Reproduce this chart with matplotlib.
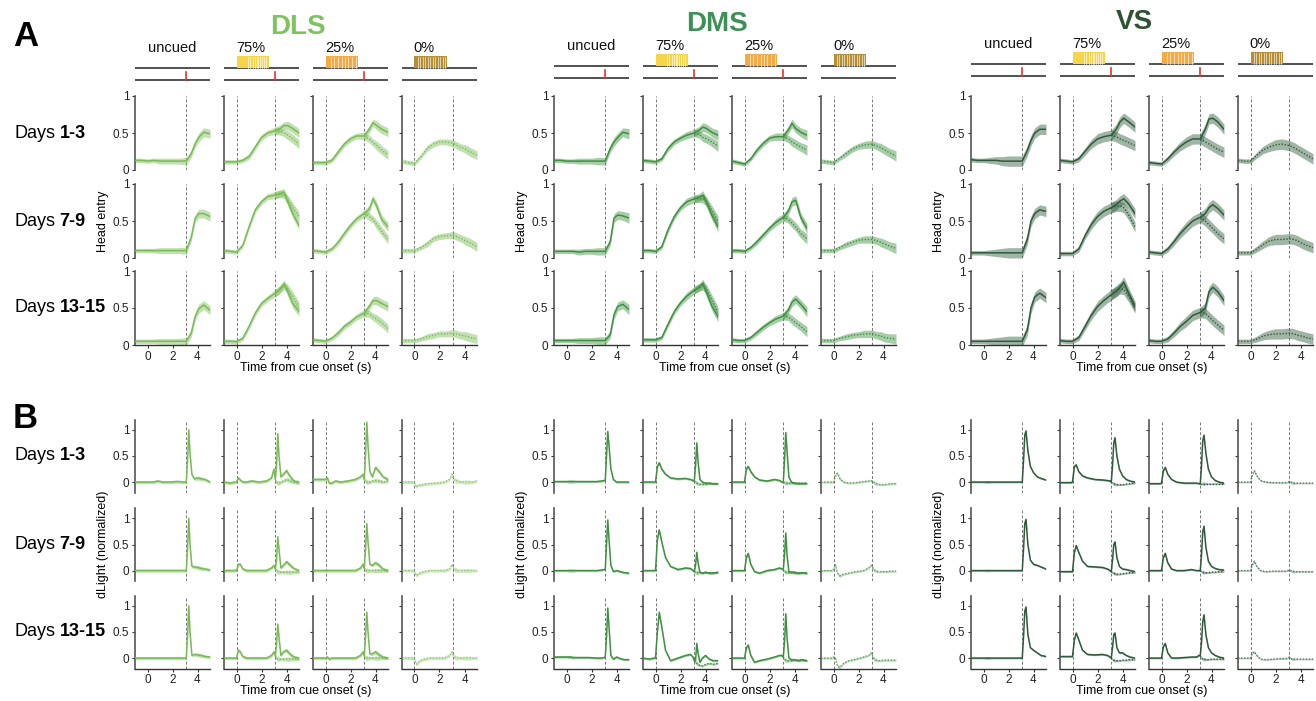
import numpy as np
import matplotlib
matplotlib.use('Agg')
import matplotlib.pyplot as plt
from matplotlib.patches import Rectangle

plt.rcParams['font.family'] = ['Liberation Sans', 'DejaVu Sans']

###############################################################################
##                                   Data                                    ##
###############################################################################

REGIONS = ['DLS', 'DMS', 'VS']
CONDITIONS = ['uncued', '75%', '25%', '0%']
DAYS = ['1-3', '7-9', '13-15']
REWARD_T = 3.1
CUE_END = 2.6

# head entry time grid; omitted tails start after 3.1 s (index 8)
HE_T = [-1, -0.5, 0, 0.5, 1, 1.5, 2, 2.5, 3.1, 3.5, 3.8, 4.1, 4.5, 5]
HE_SPLIT = 8

# dLight time grid; omitted tails start after 3.1 s (index 13)
DL_T = [-1, -0.5, -0.1, 0, 0.15, 0.3, 0.5, 0.8, 1.2, 1.8, 2.4, 2.8, 3.0, 3.1,
        3.2, 3.3, 3.4, 3.55, 3.75, 4.0, 4.3, 4.6, 5.0]
DL_SPLIT = 13

# ---- head entry, rows = days ----
DLS_HE_UNCUED = [[0.13, 0.13, 0.12, 0.13, 0.12, 0.12, 0.12, 0.12, 0.12, 0.22, 0.35, 0.44, 0.51, 0.49],
                 [0.1, 0.1, 0.1, 0.1, 0.1, 0.1, 0.1, 0.1, 0.1, 0.28, 0.53, 0.6, 0.6, 0.56],
                 [0.05, 0.05, 0.05, 0.05, 0.05, 0.05, 0.05, 0.05, 0.05, 0.16, 0.38, 0.49, 0.54, 0.47]]
DLS_HE_75 = [[0.11, 0.11, 0.11, 0.13, 0.18, 0.31, 0.44, 0.5, 0.53, 0.56, 0.6, 0.6, 0.56, 0.5],
             [0.1, 0.09, 0.08, 0.17, 0.42, 0.65, 0.76, 0.83, 0.85, 0.87, 0.89, 0.76, 0.6, 0.44],
             [0.05, 0.05, 0.045, 0.09, 0.25, 0.43, 0.56, 0.63, 0.7, 0.76, 0.83, 0.72, 0.56, 0.45]]
DLS_HE_75_OMIT = [[0.52, 0.5, 0.47, 0.42, 0.35],
                  [0.87, 0.85, 0.79, 0.69, 0.56],
                  [0.75, 0.8, 0.76, 0.66, 0.52]]
DLS_HE_25 = [[0.1, 0.1, 0.1, 0.13, 0.24, 0.35, 0.42, 0.46, 0.46, 0.55, 0.64, 0.6, 0.55, 0.51],
             [0.1, 0.09, 0.08, 0.12, 0.21, 0.33, 0.44, 0.53, 0.6, 0.66, 0.8, 0.7, 0.52, 0.42],
             [0.07, 0.06, 0.05, 0.09, 0.16, 0.25, 0.31, 0.38, 0.43, 0.52, 0.6, 0.6, 0.56, 0.52]]
DLS_HE_25_OMIT = [[0.42, 0.37, 0.33, 0.27, 0.2],
                  [0.56, 0.52, 0.45, 0.36, 0.25],
                  [0.42, 0.38, 0.35, 0.3, 0.22]]
DLS_HE_0 = [[0.12, 0.1, 0.09, 0.18, 0.29, 0.35, 0.38, 0.38, 0.36, 0.32, 0.3, 0.28, 0.24, 0.2],
            [0.1, 0.1, 0.1, 0.14, 0.19, 0.26, 0.29, 0.3, 0.31, 0.28, 0.26, 0.23, 0.2, 0.15],
            [0.06, 0.06, 0.06, 0.08, 0.11, 0.13, 0.15, 0.15, 0.16, 0.14, 0.13, 0.12, 0.1, 0.08]]

DMS_HE_UNCUED = [[0.13, 0.13, 0.12, 0.12, 0.12, 0.12, 0.12, 0.12, 0.12, 0.29, 0.38, 0.44, 0.51, 0.49],
                 [0.09, 0.09, 0.09, 0.09, 0.08, 0.09, 0.09, 0.09, 0.09, 0.22, 0.54, 0.58, 0.57, 0.54],
                 [0.06, 0.06, 0.06, 0.06, 0.06, 0.06, 0.06, 0.06, 0.06, 0.14, 0.41, 0.52, 0.55, 0.48]]
DMS_HE_75 = [[0.13, 0.12, 0.11, 0.15, 0.29, 0.38, 0.43, 0.47, 0.5, 0.54, 0.58, 0.56, 0.51, 0.47],
             [0.1, 0.1, 0.09, 0.15, 0.38, 0.56, 0.68, 0.76, 0.8, 0.82, 0.85, 0.74, 0.58, 0.42],
             [0.07, 0.07, 0.07, 0.1, 0.28, 0.45, 0.57, 0.66, 0.74, 0.78, 0.83, 0.7, 0.53, 0.38]]
DMS_HE_75_OMIT = [[0.48, 0.44, 0.42, 0.38, 0.32],
                  [0.8, 0.8, 0.76, 0.65, 0.5],
                  [0.78, 0.8, 0.75, 0.62, 0.45]]
DMS_HE_25 = [[0.12, 0.1, 0.08, 0.15, 0.27, 0.36, 0.43, 0.45, 0.45, 0.54, 0.63, 0.56, 0.51, 0.47],
             [0.1, 0.1, 0.09, 0.14, 0.22, 0.31, 0.4, 0.48, 0.55, 0.63, 0.76, 0.78, 0.55, 0.4],
             [0.07, 0.06, 0.06, 0.1, 0.17, 0.24, 0.3, 0.35, 0.39, 0.47, 0.58, 0.62, 0.55, 0.45]]
DMS_HE_25_OMIT = [[0.42, 0.38, 0.35, 0.31, 0.27],
                  [0.52, 0.47, 0.42, 0.33, 0.26],
                  [0.38, 0.34, 0.3, 0.25, 0.18]]
DMS_HE_0 = [[0.12, 0.11, 0.1, 0.16, 0.22, 0.28, 0.32, 0.34, 0.35, 0.32, 0.3, 0.27, 0.23, 0.19],
            [0.1, 0.1, 0.1, 0.14, 0.18, 0.21, 0.24, 0.25, 0.25, 0.23, 0.21, 0.19, 0.16, 0.13],
            [0.06, 0.06, 0.06, 0.09, 0.11, 0.13, 0.14, 0.15, 0.15, 0.13, 0.12, 0.1, 0.09, 0.08]]

VS_HE_UNCUED = [[0.14, 0.13, 0.13, 0.13, 0.13, 0.12, 0.12, 0.12, 0.12, 0.26, 0.4, 0.5, 0.55, 0.55],
                [0.07, 0.07, 0.07, 0.07, 0.07, 0.07, 0.07, 0.07, 0.07, 0.25, 0.5, 0.6, 0.65, 0.63],
                [0.05, 0.05, 0.05, 0.05, 0.05, 0.05, 0.05, 0.05, 0.05, 0.2, 0.5, 0.65, 0.7, 0.64]]
VS_HE_75 = [[0.13, 0.12, 0.11, 0.15, 0.25, 0.35, 0.42, 0.45, 0.47, 0.55, 0.65, 0.7, 0.65, 0.58],
            [0.06, 0.06, 0.06, 0.12, 0.3, 0.45, 0.56, 0.63, 0.68, 0.72, 0.77, 0.8, 0.73, 0.6],
            [0.06, 0.05, 0.05, 0.1, 0.25, 0.4, 0.52, 0.6, 0.68, 0.73, 0.78, 0.85, 0.7, 0.52]]
VS_HE_75_OMIT = [[0.45, 0.42, 0.4, 0.37, 0.33],
                 [0.7, 0.7, 0.68, 0.58, 0.42],
                 [0.72, 0.76, 0.75, 0.65, 0.5]]
VS_HE_25 = [[0.1, 0.09, 0.08, 0.15, 0.24, 0.32, 0.38, 0.42, 0.42, 0.55, 0.69, 0.7, 0.65, 0.55],
            [0.08, 0.07, 0.06, 0.12, 0.22, 0.33, 0.42, 0.5, 0.55, 0.6, 0.68, 0.72, 0.67, 0.58],
            [0.06, 0.05, 0.05, 0.08, 0.16, 0.25, 0.32, 0.4, 0.44, 0.5, 0.72, 0.78, 0.72, 0.6]]
VS_HE_25_OMIT = [[0.38, 0.35, 0.32, 0.28, 0.24],
                 [0.5, 0.45, 0.4, 0.33, 0.26],
                 [0.43, 0.38, 0.33, 0.27, 0.2]]
VS_HE_0 = [[0.13, 0.12, 0.12, 0.2, 0.27, 0.31, 0.34, 0.35, 0.33, 0.3, 0.27, 0.24, 0.2, 0.15],
           [0.07, 0.07, 0.07, 0.12, 0.18, 0.23, 0.25, 0.25, 0.26, 0.25, 0.23, 0.2, 0.17, 0.14],
           [0.05, 0.05, 0.05, 0.08, 0.12, 0.14, 0.15, 0.15, 0.16, 0.15, 0.13, 0.12, 0.1, 0.08]]

HE_SEM_DLS = [0.03, 0.03, 0.03, 0.03, 0.04, 0.04, 0.04, 0.04, 0.05, 0.05, 0.05, 0.06, 0.06, 0.06]
HE_SEM_DMS = [0.03, 0.03, 0.03, 0.03, 0.04, 0.04, 0.04, 0.05, 0.05, 0.05, 0.06, 0.06, 0.06, 0.07]
HE_SEM_VS = [0.03, 0.03, 0.03, 0.04, 0.05, 0.06, 0.07, 0.07, 0.07, 0.07, 0.07, 0.07, 0.07, 0.07]

# ---- dLight (normalized), rows = days ----
DLS_DL_UNCUED = [[0, 0, 0, 0, 0, 0, 0, 0.02, 0, 0, 0.01, 0, 0, 0, 0.4, 1.0, 0.55, 0.15, 0.06, 0.08, 0.06, 0.05, 0.0],
                 [0, 0, 0, 0, 0, 0, 0, 0, 0, 0, 0, 0, 0, 0, 0.4, 1.0, 0.5, 0.08, 0.07, 0.06, 0.04, 0.03, 0.01],
                 [0, 0, 0, 0, 0, 0, 0, 0, 0, 0, 0, 0, 0, 0, 0.4, 1.0, 0.5, 0.05, 0.07, 0.06, 0.05, 0.03, 0.02]]
DLS_DL_75 = [[0, -0.02, 0, 0, 0.08, 0.04, 0, 0, 0.02, 0, 0.02, 0.08, 0.25, 0.05, 0.3, 0.93, 0.5, 0.1, 0.15, 0.22, 0.1, 0.02, 0.0],
             [0, 0, 0, 0, 0.12, 0.12, 0.03, 0, 0, 0, 0, 0.05, 0.1, 0.03, 0.2, 0.65, 0.4, 0.05, 0.1, 0.17, 0.1, 0.04, 0.0],
             [0, 0, 0, 0, 0.15, 0.12, 0.03, 0, 0, 0, 0, 0.05, 0.12, 0.04, 0.25, 0.65, 0.4, 0.05, 0.12, 0.15, 0.07, 0.02, 0.0]]
DLS_DL_75_OMIT = [[0.0, -0.02, -0.02, 0, 0.02, 0.05, 0.02, 0, -0.02],
                  [0, -0.02, -0.03, -0.03, -0.03, -0.03, -0.03, -0.03, -0.03],
                  [0, -0.02, -0.02, -0.02, -0.02, -0.02, -0.02, -0.02, -0.02]]
DLS_DL_25 = [[0.05, 0.05, 0.05, 0.05, 0.08, -0.02, -0.02, 0.02, 0, 0.02, 0.05, 0.1, 0.15, 0.05, 0.5, 1.15, 0.7, 0.2, 0.1, 0.28, 0.2, 0.1, 0.05],
             [0, 0, 0, 0, 0, 0, 0, 0, 0, 0, 0, 0.05, 0.12, 0.05, 0.4, 0.9, 0.55, 0.12, 0.1, 0.15, 0.1, 0.03, 0.0],
             [0, 0, 0, 0, 0.02, -0.02, 0, 0, 0, 0, 0, 0.05, 0.12, 0.04, 0.4, 0.88, 0.5, 0.08, 0.08, 0.12, 0.06, 0.02, 0.0]]
DLS_DL_25_OMIT = [[0.02, 0, 0, 0, 0.02, 0.03, 0.02, 0, 0.02],
                  [0, 0, 0, 0, 0, 0, 0, 0, 0],
                  [0, 0, 0, 0, 0, 0, 0, 0, 0]]
DLS_DL_0 = [[0, 0, 0, -0.02, -0.1, -0.05, -0.06, -0.04, -0.03, -0.02, 0, 0.05, 0.15, 0.08, 0.04, 0.02, 0.02, 0.01, 0, 0, 0, 0, 0.02],
            [0, 0, 0, -0.02, -0.1, -0.06, -0.04, -0.02, 0, 0, 0, 0.03, 0.12, 0.05, 0.02, 0.01, 0, 0, 0, 0, 0, 0, 0],
            [0, 0, 0, -0.02, -0.12, -0.08, -0.04, -0.02, 0, 0, 0, 0.05, 0.12, 0.05, 0.02, 0.01, 0, 0, 0, 0, 0, 0, 0]]

DMS_DL_UNCUED = [[0.01, 0.01, 0.01, 0.01, 0.01, 0.01, 0.01, 0.01, 0.01, 0.01, 0.01, 0.02, 0.03, 0.03, 0.5, 0.97, 0.7, 0.25, 0.05, 0, 0, 0, 0],
                 [0, 0, 0, 0, 0, 0, 0, 0, 0, 0, 0, 0.01, 0.02, 0.02, 0.5, 0.97, 0.6, 0.1, -0.02, 0, -0.02, -0.04, -0.05],
                 [0.02, 0.02, 0.02, 0.02, 0.02, 0.02, 0.01, 0.01, 0.01, 0.01, 0, 0, 0.01, 0.02, 0.4, 0.96, 0.6, 0.05, -0.02, 0.02, -0.01, -0.03, -0.03]]
DMS_DL_75 = [[0, 0, 0, 0, 0.3, 0.37, 0.25, 0.15, 0.08, 0.06, 0.07, 0.05, 0.03, 0.02, 0.3, 0.75, 0.4, 0.05, 0, -0.02, -0.02, -0.03, -0.03],
             [0, 0, 0, 0, 0.6, 0.78, 0.55, 0.25, 0.08, 0.02, 0.05, 0.04, 0, -0.02, 0.1, 0.35, 0.15, -0.03, -0.05, -0.03, -0.05, -0.05, -0.03],
             [0, -0.02, 0, 0, 0.5, 0.88, 0.6, 0.15, -0.05, 0, 0.05, 0.07, 0.02, -0.05, -0.05, 0.28, 0.1, -0.08, 0, 0.05, -0.02, -0.05, -0.05]]
DMS_DL_75_OMIT = [[0, -0.02, -0.03, -0.04, -0.04, -0.04, -0.03, -0.03, -0.03],
                  [-0.03, -0.04, -0.04, -0.04, -0.04, -0.04, -0.04, -0.04, -0.04],
                  [-0.08, -0.1, -0.12, -0.14, -0.15, -0.12, -0.1, -0.12, -0.1]]
DMS_DL_25 = [[0, 0, 0, 0, 0.25, 0.3, 0.2, 0.1, 0.04, 0.02, 0.05, 0.03, 0, 0, 0.4, 0.95, 0.6, 0.1, 0, -0.02, -0.03, -0.03, -0.03],
             [0, 0, 0, 0, 0.25, 0.33, 0.12, -0.02, -0.05, 0, 0.02, 0.05, 0.03, 0.02, 0.3, 0.72, 0.3, -0.02, -0.03, -0.03, -0.05, -0.04, -0.05],
             [0, 0, 0, 0, 0.2, 0.25, 0.05, -0.08, -0.05, -0.02, 0.02, 0.05, 0.05, 0.02, 0.3, 0.85, 0.4, 0, -0.03, -0.03, -0.05, -0.03, -0.05]]
DMS_DL_25_OMIT = [[-0.01, -0.02, -0.02, -0.02, -0.02, -0.02, -0.02, -0.02, -0.02],
                  [-0.02, -0.03, -0.03, -0.04, -0.04, -0.05, -0.05, -0.04, -0.05],
                  [-0.03, -0.04, -0.05, -0.05, -0.05, -0.04, -0.04, -0.04, -0.05]]
DMS_DL_0 = [[0, 0, 0, 0, 0.13, 0.17, 0.07, 0, -0.02, -0.01, 0.01, 0.02, 0.03, 0.02, 0, -0.02, -0.03, -0.04, -0.05, -0.05, -0.04, -0.03, -0.03],
            [0, 0, 0, 0.03, 0.12, -0.05, -0.1, -0.07, -0.05, -0.02, 0, 0.05, 0.1, 0.07, 0.03, 0, -0.01, -0.02, -0.02, -0.02, -0.02, -0.01, -0.01],
            [0, 0, 0, 0.02, 0, -0.15, -0.18, -0.1, -0.05, -0.02, 0.02, 0.05, 0.1, 0.05, 0, -0.03, -0.04, -0.05, -0.05, -0.04, -0.04, -0.04, -0.04]]

VS_DL_UNCUED = [[0, 0, 0, 0, 0, 0, 0, 0, 0, 0, 0, 0, 0, 0, 0.4, 0.9, 0.98, 0.6, 0.3, 0.18, 0.1, 0.07, 0.04],
                [0, 0, 0, 0, 0, 0, 0, 0, 0, 0, 0, 0, 0, 0, 0.4, 0.9, 0.98, 0.5, 0.2, 0.12, 0.1, 0.07, 0.03],
                [0, 0, 0, 0, 0, 0, 0, 0, 0, 0, 0, 0, 0, 0, 0.4, 0.9, 0.98, 0.45, 0.2, 0.15, 0.1, 0.05, 0.03]]
VS_DL_75 = [[-0.01, -0.01, -0.01, 0, 0.3, 0.33, 0.2, 0.12, 0.08, 0.05, 0.04, 0.03, 0.02, 0, 0.3, 0.75, 0.85, 0.5, 0.25, 0.12, 0.05, 0.02, 0],
            [-0.02, -0.02, -0.02, -0.02, 0.35, 0.48, 0.35, 0.18, 0.08, 0.07, 0.06, 0.03, 0, -0.02, 0.2, 0.5, 0.55, 0.25, 0.08, 0.03, 0.02, 0, -0.02],
            [0.03, 0.03, 0.03, 0.03, 0.35, 0.48, 0.35, 0.15, 0.07, 0.06, 0.07, 0.05, 0.02, 0, 0.2, 0.45, 0.48, 0.2, 0.1, 0.1, 0.05, 0.02, 0]]
VS_DL_75_OMIT = [[-0.02, -0.03, -0.04, -0.05, -0.05, -0.05, -0.04, -0.03, -0.02],
                 [-0.04, -0.05, -0.06, -0.07, -0.07, -0.06, -0.05, -0.04, -0.04],
                 [-0.03, -0.04, -0.05, -0.05, -0.05, -0.04, -0.04, -0.03, -0.03]]
VS_DL_25 = [[-0.03, -0.03, -0.03, -0.02, 0.22, 0.28, 0.15, 0.05, 0, -0.02, -0.02, -0.02, -0.03, -0.03, 0.3, 0.8, 0.9, 0.55, 0.25, 0.1, 0.03, 0, -0.02],
            [0, 0, 0, 0, 0.25, 0.33, 0.15, 0.03, 0, 0, 0.02, 0, 0, 0, 0.3, 0.75, 0.85, 0.45, 0.18, 0.08, 0.04, 0.02, 0.01],
            [0, 0, 0, 0, 0.22, 0.28, 0.1, 0, 0, 0.01, 0.02, 0.02, 0.05, 0.05, 0.3, 0.7, 0.83, 0.45, 0.2, 0.1, 0.05, 0.02, 0]]
VS_DL_25_OMIT = [[-0.03, -0.03, -0.03, -0.03, -0.03, -0.03, -0.03, -0.03, -0.03],
                 [-0.02, -0.03, -0.04, -0.04, -0.04, -0.03, -0.03, -0.02, -0.02],
                 [0, -0.02, -0.02, -0.03, -0.03, -0.02, -0.02, -0.02, -0.02]]
VS_DL_0 = [[0, 0, 0, 0, 0.15, 0.22, 0.12, 0.03, 0, -0.01, -0.01, -0.01, 0, 0.01, 0, -0.01, -0.02, -0.02, -0.02, -0.02, -0.02, -0.02, -0.02],
           [0, 0, 0, 0, 0.12, 0.18, 0.08, 0, -0.02, -0.01, -0.01, -0.01, 0, 0.01, 0, -0.01, -0.02, -0.02, -0.02, -0.02, -0.02, -0.02, -0.02],
           [0, 0, 0, 0, 0.1, 0.12, 0.05, -0.02, -0.03, -0.02, -0.01, -0.01, 0, 0.02, 0, -0.02, -0.02, -0.02, -0.02, -0.02, -0.02, -0.02, -0.02]]

DL_SEM_DLS = [0.03, 0.03, 0.03, 0.03, 0.03, 0.03, 0.03, 0.03, 0.03, 0.03, 0.03, 0.03, 0.03, 0.03,
              0.04, 0.05, 0.04, 0.03, 0.03, 0.04, 0.04, 0.03, 0.03]
DL_SEM_DMS = [0.02, 0.02, 0.02, 0.02, 0.03, 0.03, 0.03, 0.02, 0.02, 0.02, 0.02, 0.02, 0.02, 0.02,
              0.03, 0.04, 0.03, 0.02, 0.02, 0.02, 0.02, 0.02, 0.02]
DL_SEM_VS = [0.015, 0.015, 0.015, 0.015, 0.02, 0.025, 0.02, 0.015, 0.015, 0.015, 0.015, 0.015, 0.015, 0.015,
             0.02, 0.03, 0.03, 0.02, 0.015, 0.015, 0.015, 0.015, 0.015]

# click trains drawn inside the cue bars
CLICKS_75 = [0.9, 1.1, 1.3, 1.45, 1.6, 1.75, 1.9, 2.05, 2.2, 2.35]
CLICKS_25 = [0.4, 0.7, 1.0, 1.3, 1.55, 1.8, 2.1, 2.4]
CLICKS_0 = [0.25, 0.45, 0.65, 0.85, 1.05, 1.25, 1.45, 1.65, 1.85, 2.05, 2.25, 2.45]

###############################################################################
##                                  Styles                                   ##
###############################################################################

LINE_COLORS = {'DLS': '#78bb55', 'DMS': '#3f9140', 'VS': '#2f5b3c'}
TITLE_COLORS = {'DLS': '#7ec35f', 'DMS': '#3e9156', 'VS': '#2e5233'}
CUE_COLORS = {'75%': '#f7d54a', '25%': '#f4aa45', '0%': '#b58f35'}
CUE_CLICKS = {'75%': CLICKS_75, '25%': CLICKS_25, '0%': CLICKS_0}

W, H = 1316, 701
REGION_LEFT = {'DLS': 135, 'DMS': 554, 'VS': 971}
HEADER_DY = {'DLS': 0, 'DMS': -2, 'VS': -4}
TITLE_Y = {'DLS': 27, 'DMS': 24, 'VS': 22}
COL_STEP = 89
AX_W = 75
HE_TOPS = [96, 184, 271]
HE_H = 74
DL_TOPS = [419.5, 508, 595.5]
DL_H = 73
DASH = (0, (3, 2))

HE_DATA = {'DLS': (DLS_HE_UNCUED, DLS_HE_75, DLS_HE_75_OMIT, DLS_HE_25, DLS_HE_25_OMIT, DLS_HE_0, HE_SEM_DLS),
           'DMS': (DMS_HE_UNCUED, DMS_HE_75, DMS_HE_75_OMIT, DMS_HE_25, DMS_HE_25_OMIT, DMS_HE_0, HE_SEM_DMS),
           'VS': (VS_HE_UNCUED, VS_HE_75, VS_HE_75_OMIT, VS_HE_25, VS_HE_25_OMIT, VS_HE_0, HE_SEM_VS)}
DL_DATA = {'DLS': (DLS_DL_UNCUED, DLS_DL_75, DLS_DL_75_OMIT, DLS_DL_25, DLS_DL_25_OMIT, DLS_DL_0, DL_SEM_DLS),
           'DMS': (DMS_DL_UNCUED, DMS_DL_75, DMS_DL_75_OMIT, DMS_DL_25, DMS_DL_25_OMIT, DMS_DL_0, DL_SEM_DMS),
           'VS': (VS_DL_UNCUED, VS_DL_75, VS_DL_75_OMIT, VS_DL_25, VS_DL_25_OMIT, VS_DL_0, DL_SEM_VS)}

fig = plt.figure(figsize=(W / 100, H / 100), dpi=100)


def add_ax(left, top, w, h):
    return fig.add_axes([left / W, 1 - (top + h) / H, w / W, h / H])


def trace(ax, t, y, sem, color, ls, alpha=1.0):
    y = np.asarray(y, dtype=float)
    s = np.asarray(sem, dtype=float)
    ax.fill_between(t, y - s, y + s, color=color, alpha=0.45 * alpha, lw=0, zorder=2)
    ax.plot(t, y, color=color, ls=ls, lw=1.1 if ls == '-' else 1.0, alpha=alpha, zorder=3)


def draw_panel(ax, t, split, data, col, day, color, dl):
    uncued, r75, o75, r25, o25, zero, sem = data
    if col == 0:
        trace(ax, t, uncued[day], sem, color, '-')
    elif col in (1, 2):
        rew, om = (r75, o75) if col == 1 else (r25, o25)
        tail = [rew[day][split]] + list(om[day])
        trace(ax, t[split:], tail, sem[split:], color, (0, (1, 1.2)))
        trace(ax, t, rew[day], sem, color, '-')
    else:
        trace(ax, t, zero[day], sem, color, (0, (1, 1.2)), alpha=0.75 if dl else 1.0)


def style_axes(ax, col, row, ylim, yt):
    ax.set_xlim(-1, 5)
    ax.set_ylim(*ylim)
    for s in ['top', 'right']:
        ax.spines[s].set_visible(False)
    ax.spines['left'].set_color('#555555')
    ax.spines['left'].set_linewidth(1.2)
    ax.spines['bottom'].set_color('#333333')
    ax.spines['bottom'].set_linewidth(1.0)
    ax.set_yticks(yt)
    if col == 0:
        ax.set_yticklabels(['0', '0.5', '1'])
    else:
        ax.set_yticklabels([])
    if row == 2:
        ax.set_xticks([0, 2, 4])
    else:
        ax.spines['bottom'].set_visible(False)
        ax.set_xticks([])
    ax.tick_params(length=2.5, width=0.8, labelsize=8.5, colors='#333333', pad=1.5)
    ax.tick_params(labelcolor='#222222')
    ax.patch.set_alpha(0)
    ax.axvline(REWARD_T, color='#777777', ls=DASH, lw=0.7, zorder=1)
    if col > 0:
        ax.axvline(0, color='#777777', ls=DASH, lw=0.7, zorder=1)


###############################################################################
##                               Build Figure                                ##
###############################################################################

for region in REGIONS:
    L = REGION_LEFT[region]
    color = LINE_COLORS[region]
    dy = HEADER_DY[region]
    center = L + (3 * COL_STEP + AX_W) / 2

    fig.text((center - 8) / W, 1 - TITLE_Y[region] / H, region, ha='center', va='center',
             fontsize=20, fontweight='bold', color=TITLE_COLORS[region])

    for col, cond in enumerate(CONDITIONS):
        left = L + col * COL_STEP

        # cue / reward schematic
        hax = add_ax(left, 40 + dy, AX_W, 44)
        hax.set_xlim(-1, 5)
        hax.set_ylim(84 + dy, 40 + dy)
        hax.axis('off')
        hax.plot([-1, 5], [68 + dy, 68 + dy], color='#333333', lw=1.2, solid_capstyle='butt')
        hax.plot([-1, 5], [80 + dy, 80 + dy], color='#333333', lw=1.2, solid_capstyle='butt')
        if cond == 'uncued':
            hax.text(2.0, 48 + dy, cond, ha='center', va='center', fontsize=10.5, color='#111111')
        else:
            hax.add_patch(Rectangle((0, 56 + dy), CUE_END, 12, color=CUE_COLORS[cond], lw=0, zorder=2))
            for c in CUE_CLICKS[cond]:
                hax.plot([c, c], [56.5 + dy, 67.5 + dy], color='white', lw=0.6, alpha=0.7, zorder=3)
            hax.text(-0.05, 48 + dy, cond, ha='left', va='center', fontsize=10.5, color='#111111')
        if cond != '0%':
            hax.plot([REWARD_T, REWARD_T], [72 + dy, 80 + dy], color='#e8322a', lw=1.2, zorder=4)

        # head entry (A)
        for row in range(3):
            ax = add_ax(left, HE_TOPS[row], AX_W, HE_H)
            style_axes(ax, col, row, (0, 1), [0, 0.5, 1])
            draw_panel(ax, HE_T, HE_SPLIT, HE_DATA[region], col, row, color, False)
            if col == 0 and row == 1:
                ax.set_ylabel('Head entry', fontsize=9, labelpad=3)

        # dLight (B)
        for row in range(3):
            ax = add_ax(left, DL_TOPS[row], AX_W, DL_H)
            style_axes(ax, col, row, (-0.2, 1.2), [0, 0.5, 1])
            draw_panel(ax, DL_T, DL_SPLIT, DL_DATA[region], col, row, color, True)
            if col == 0 and row == 1:
                ax.set_ylabel('dLight (normalized)', fontsize=9, labelpad=3)

    fig.text(center / W, 1 - 368 / H, 'Time from cue onset (s)', ha='center', va='center', fontsize=9)
    fig.text(center / W, 1 - 691 / H, 'Time from cue onset (s)', ha='center', va='center', fontsize=9)

# panel letters
fig.text(13 / W, 1 - 36 / H, 'A', fontsize=25, fontweight='bold', ha='left', va='center')
fig.text(13 / W, 1 - 418 / H, 'B', fontsize=25, fontweight='bold', ha='left', va='center')

# day labels: "Days" regular + range in bold
fig.canvas.draw()
renderer = fig.canvas.get_renderer()
for tops, h in [(HE_TOPS, HE_H), (DL_TOPS, DL_H)]:
    for top, day in zip(tops, DAYS):
        yc = 1 - (top + h / 2) / H
        t1 = fig.text(14 / W, yc, 'Days', fontsize=13, ha='left', va='center')
        bb = t1.get_window_extent(renderer)
        fig.text((bb.x1 + 4.5) / W, yc, day, fontsize=13, fontweight='bold', ha='left', va='center')

fig.savefig('out.png', dpi=100)
